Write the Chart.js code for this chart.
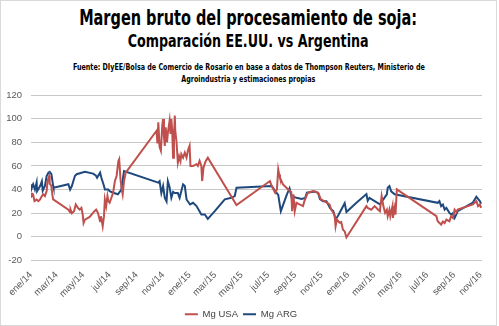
<!DOCTYPE html>
<html>
<head>
<meta charset="utf-8">
<title>Margen bruto del procesamiento de soja</title>
<script src="https://cdn.jsdelivr.net/npm/chart.js"></script>
<style>
  body { margin: 0; background: #fff; }
  #marco { position: relative; width: 495px; height: 324px; border: 1px solid #d9d9d9; overflow: hidden; background: #fff; }
  .titulo { position: absolute; left: 0; width: 100%; text-align: center; white-space: nowrap; color: #000;
            font-family: "Liberation Sans Narrow", "DejaVu Sans Condensed", "Arial Narrow", sans-serif; font-weight: bold; }
  .titulo span { display: inline-block; transform-origin: 50% 50%; }
  #t1 { top: 5px; font-size: 21px; line-height: 24px; }
  #t2 { top: 30px; font-size: 17px; line-height: 20px; }
  #fuente { top: 61px; font-size: 9px; line-height: 11.5px; }
  #grafico { position: absolute; left: -1px; top: 79px; }
</style>
</head>
<body>
<div id="marco">
  <div class="titulo" id="t1"><span data-ancho="338">Margen bruto del procesamiento de soja:</span></div>
  <div class="titulo" id="t2"><span data-ancho="241">Comparación EE.UU. vs Argentina</span></div>
  <div class="titulo" id="fuente"><span data-ancho="352">Fuente: DIyEE/Bolsa de Comercio de Rosario en base a datos de Thompson Reuters, Ministerio de</span><br><span data-ancho="134">Agroindustria y estimaciones propias</span></div>
  <canvas id="grafico" width="499" height="256"></canvas>
</div>
<script>
// etiquetas del eje X (cada dos meses)
const etiquetasX = ['ene/14','mar/14','may/14','jul/14','sep/14','nov/14','ene/15','mar/15','may/15',
  'jul/15','sep/15','nov/15','ene/16','mar/16','may/16','jul/16','sep/16','nov/16'];

// Mg USA
const usaFechas = ['2014-01-02','2014-01-03','2014-01-06','2014-01-09','2014-01-14','2014-01-18','2014-01-22','2014-01-26',
  '2014-01-29','2014-02-02','2014-02-06','2014-02-08','2014-02-12','2014-02-13','2014-02-17','2014-02-19','2014-02-21',
  '2014-03-28','2014-04-01','2014-04-02','2014-04-05','2014-04-10','2014-04-14','2014-04-19','2014-04-23','2014-04-27',
  '2014-04-30','2014-05-02','2014-05-05','2014-05-16','2014-05-27','2014-05-31','2014-06-04','2014-06-09','2014-06-11',
  '2014-06-15','2014-06-18','2014-06-20','2014-06-23','2014-06-26','2014-06-28','2014-07-01','2014-07-09','2014-07-13',
  '2014-07-17','2014-07-21','2014-07-23','2014-07-26','2014-07-28','2014-07-31','2014-08-03','2014-08-07',
  '2014-10-17','2014-10-19','2014-10-21','2014-10-24','2014-10-27','2014-10-30','2014-11-01','2014-11-03','2014-11-05',
  '2014-11-07','2014-11-10','2014-11-12','2014-11-16','2014-11-18','2014-11-20','2014-11-22','2014-11-24','2014-11-26',
  '2014-11-28','2014-11-29','2014-12-02','2014-12-05','2014-12-08','2014-12-11','2014-12-13','2014-12-17','2014-12-21',
  '2014-12-25','2014-12-28','2015-01-01','2015-01-03','2015-01-09','2015-01-17','2015-01-20','2015-01-24','2015-01-28',
  '2015-01-30','2015-02-02','2015-02-07','2015-02-12','2015-04-19','2015-07-05','2015-07-09','2015-07-17','2015-07-21',
  '2015-07-24','2015-07-26','2015-07-28','2015-08-04','2015-08-16','2015-08-23','2015-08-25','2015-08-28','2015-08-31',
  '2015-09-04','2015-09-11','2015-09-19','2015-09-22','2015-09-30','2015-10-12','2015-10-24','2015-10-30','2015-11-07',
  '2015-11-19','2015-11-23','2015-11-28','2015-12-01','2015-12-03','2015-12-06','2015-12-12','2015-12-16','2015-12-20',
  '2015-12-24','2015-12-28','2016-02-12','2016-02-15','2016-02-23','2016-03-02','2016-03-10','2016-03-14','2016-03-18',
  '2016-03-22','2016-03-26','2016-03-30','2016-04-01','2016-04-05','2016-04-07','2016-04-12','2016-04-13','2016-04-17',
  '2016-04-19','2016-04-22','2016-07-22','2016-07-25','2016-08-02','2016-08-06','2016-08-10','2016-08-14','2016-08-21',
  '2016-08-25','2016-08-29','2016-09-02','2016-09-06','2016-09-09','2016-10-14','2016-10-22','2016-10-26','2016-10-30',
  '2016-11-02'];
const usaValores = [37.3,34.5,35.5,30.2,31.5,30.2,31.7,34.5,
  36,34.5,38.7,47,51.5,45,43,36,31.7,
  23,20.8,23,20,21.7,27.4,24.5,23,24.5,
  18.9,11.7,14.6,16.9,21.7,23,20.3,13.2,17.5,
  8.9,17.5,31.7,26,34.5,30.2,28.8,37.3,47,
  51.5,64,65.7,48.7,42,36,47,54.3,
  89.8,79,97,76,72.8,94,99.7,85,77,
  92.6,80,88,98.3,87,99.7,90,67,85,
  102.6,90,79.8,62.8,68,64,70,67,71.3,
  67,72.8,77,60,60,61.5,60,64.3,60,
  47.2,58.6,64,67,27,47.2,43,37.3,40,
  57,53,50,44.4,40,38,21.7,36,21.7,
  28.8,27.4,26,30,37.3,38.7,37.3,31.7,30.2,
  27.4,23,20.3,17.5,8.9,14.6,12,12.5,6.1,
  4.6,-0.5,26,24.5,23,26,23,21.7,34.5,
  26,20.3,23,17.5,23,17.5,26,16,24.5,
  18.9,40.2,17.5,13.2,10.4,13,11.7,14.6,13.2,
  17.5,16,23,21,23,27.4,30.2,26,27.4,
  24.5];

// Mg ARG
const argFechas = ['2014-01-02','2014-01-03','2014-01-06','2014-01-10','2014-01-14','2014-01-15','2014-01-22','2014-01-26',
  '2014-01-28','2014-02-02','2014-02-06','2014-02-10','2014-02-13','2014-02-17','2014-02-21','2014-02-22','2014-03-28',
  '2014-04-01','2014-04-05','2014-04-12','2014-04-16','2014-05-05','2014-05-24','2014-05-30','2014-06-02','2014-06-09',
  '2014-06-12','2014-06-18','2014-06-20','2014-06-28','2014-07-01','2014-07-09','2014-07-20','2014-07-28','2014-08-03',
  '2014-10-21','2014-10-24','2014-10-28','2014-11-01','2014-11-05','2014-11-09','2014-11-12','2014-11-16','2014-11-20',
  '2014-11-24','2014-11-28','2014-12-05','2014-12-09','2014-12-17','2014-12-21','2014-12-25','2015-01-02','2015-01-09',
  '2015-01-17','2015-01-28','2015-02-05','2015-02-12','2015-02-28','2015-03-23','2015-04-07','2015-04-15','2015-04-19',
  '2015-07-09','2015-07-17','2015-07-24','2015-07-30','2015-08-13','2015-08-19','2015-08-24','2015-08-28','2015-09-04',
  '2015-09-16','2015-09-24','2015-09-28','2015-10-17','2015-10-24','2015-10-28','2015-11-04','2015-11-12','2015-11-20',
  '2015-11-28','2015-12-03','2015-12-09','2015-12-16','2015-12-24','2015-12-28','2016-01-20','2016-02-12','2016-02-15',
  '2016-02-19','2016-03-14','2016-03-18','2016-03-22','2016-03-30','2016-04-01','2016-04-05','2016-04-09','2016-04-17',
  '2016-07-25','2016-07-29','2016-08-02','2016-08-06','2016-08-10','2016-08-14','2016-08-21','2016-08-25','2016-08-29',
  '2016-09-02','2016-09-06','2016-09-09','2016-10-14','2016-10-22','2016-10-30','2016-11-02'];
const argValores = [44.5,41.5,44.5,40,46,38.7,43,47,
  39,43,51.5,54.3,55,53,43,41.5,44.5,
  40,43,51.5,53,55,53.5,52,50,54.3,
  50,43,40,40,38.7,37.3,36,40,55.7,
  45.8,47,37,43,33,30,47,42,33,
  38,37,37,33,44.4,43,31.6,27.4,28.8,
  26,18.9,19,15.2,21.7,31.7,33,34.5,41.5,
  43,38.7,35.5,21.7,36,41,33,34,33,
  32,33,37.3,38.3,37,32,30.2,30.2,24.5,
  21.7,14.6,18,23,28.5,21,28.8,36.2,30.5,
  33,27.4,30,31.7,36,41.5,43,38.5,36,
  28.8,30.2,26,27.4,23,24.5,20.3,18.9,20,
  16,19,21.7,29,34,30.2,28];

// ajusta el ancho de cada renglón del título
document.querySelectorAll('[data-ancho]').forEach(el => {
  const w = el.getBoundingClientRect().width;
  el.style.transform = 'scaleX(' + (el.dataset.ancho / w) + ')';
});

const inicio = Date.UTC(2014, 0, 1);
function dia(f) {
  const [a, m, d] = f.split('-').map(Number);
  return (Date.UTC(a, m - 1, d) - inicio) / 86400000;
}
function serie(fechas, valores) {
  return fechas.map((f, i) => ({ x: dia(f), y: valores[i] }));
}
// un tick el primer día de cada mes impar
const ticksX = etiquetasX.map((_, i) => (Date.UTC(2014, 2 * i, 1) - inicio) / 86400000);

Chart.defaults.font.family = "'Liberation Sans', Arial, sans-serif";
Chart.defaults.color = '#595959';

new Chart(document.getElementById('grafico'), {
  type: 'line',
  data: {
    datasets: [
      { label: 'Mg USA', data: serie(usaFechas, usaValores), borderColor: '#C0504D', backgroundColor: '#C0504D',
        borderWidth: 2, pointRadius: 0, tension: 0 },
      { label: 'Mg ARG', data: serie(argFechas, argValores), borderColor: '#1F497D', backgroundColor: '#1F497D',
        borderWidth: 2, pointRadius: 0, tension: 0 }
    ]
  },
  options: {
    responsive: false,
    animation: false,
    devicePixelRatio: 1,
    layout: { padding: { top: 15, right: 17, bottom: 7, left: 0 } },
    plugins: {
      tooltip: { enabled: false },
      legend: {
        position: 'bottom',
        labels: { usePointStyle: true, pointStyle: 'line', pointStyleWidth: 13, padding: 5,
                  font: { size: 9.5 }, color: '#404040' }
      }
    },
    scales: {
      x: {
        type: 'linear', min: 0, max: 1038,
        afterBuildTicks: s => { s.ticks = ticksX.map(v => ({ value: v })); },
        afterFit: s => { s.height = 44; },
        ticks: { autoSkip: false, minRotation: 45, maxRotation: 45, padding: 1, font: { size: 9.5 },
                 callback: (v, i) => etiquetasX[i] },
        grid: { display: false },
        border: { display: false }
      },
      y: {
        min: -20, max: 120,
        afterFit: s => { s.width = 31; },
        ticks: { stepSize: 20, padding: 9, font: { size: 9.5 } },
        grid: { color: '#c8c8c8', lineWidth: 1, drawTicks: false },
        border: { display: false }
      }
    }
  }
});
</script>
</body>
</html>
